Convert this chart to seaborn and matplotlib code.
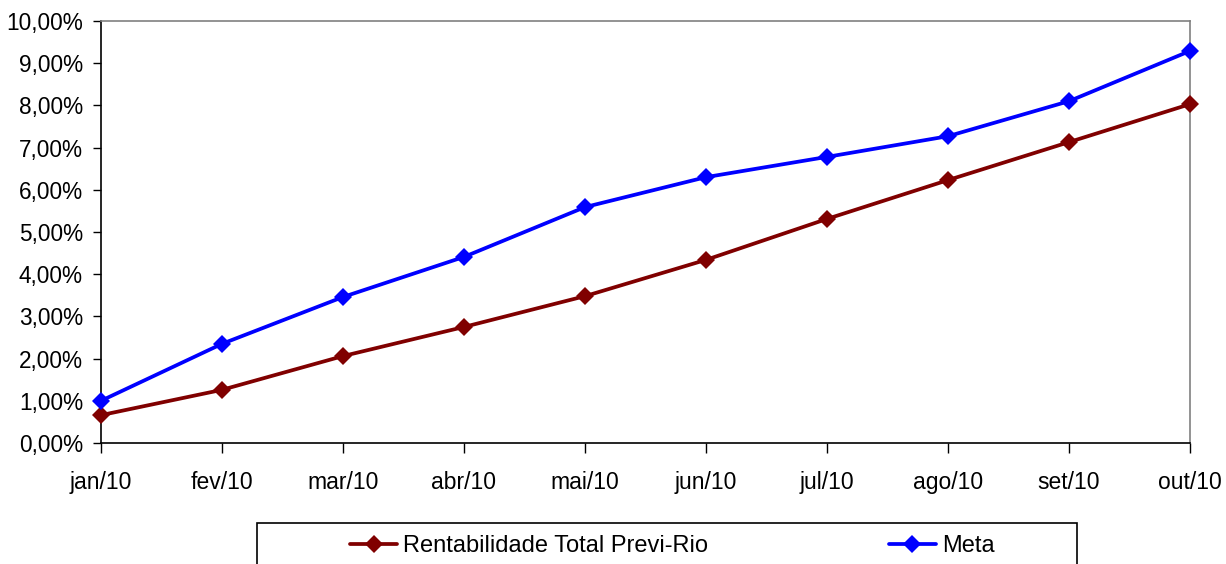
import matplotlib
matplotlib.use("Agg")
import matplotlib.pyplot as plt
import matplotlib.ticker as mticker
from matplotlib.patches import Rectangle
import seaborn as sns
import pandas as pd

meses = ["jan/10", "fev/10", "mar/10", "abr/10", "mai/10", "jun/10", "jul/10", "ago/10", "set/10", "out/10"]
rentabilidade = [0.66, 1.26, 2.06, 2.75, 3.48, 4.34, 5.31, 6.23, 7.13, 8.03]
meta = [1.00, 2.35, 3.46, 4.41, 5.59, 6.30, 6.78, 7.27, 8.10, 9.29]
serie_nomes = ["Rentabilidade Total Previ-Rio", "Meta"]
cores = ["#800000", "#0000FF"]

sns.set_style("white")
plt.rcParams["font.family"] = ["Liberation Sans", "DejaVu Sans"]
plt.rcParams["text.color"] = "black"
plt.rcParams["xtick.color"] = "black"
plt.rcParams["ytick.color"] = "black"

df = pd.DataFrame({
    "pos": list(range(len(meses))) * 2,
    "valor": rentabilidade + meta,
    "serie": [serie_nomes[0]] * len(meses) + [serie_nomes[1]] * len(meses),
})

fig = plt.figure(figsize=(12.26, 5.64), dpi=100)
W, H = 1226, 564
ax = fig.add_axes([101 / W, 1 - 443 / H, (1190 - 101) / W, (443 - 21) / H])

sns.lineplot(data=df, x="pos", y="valor", hue="serie", style="serie",
             hue_order=serie_nomes, palette=cores, markers=["D", "D"], dashes=False,
             markersize=9.5, markeredgewidth=0, linewidth=2.7, sort=False, ax=ax,
             clip_on=False, zorder=5)

ax.set_xlim(0, len(meses) - 1)
ax.set_ylim(0, 10)
ax.set_xticks(range(len(meses)))
ax.set_xticklabels(meses)
ax.set_yticks(range(0, 11))
ax.yaxis.set_major_formatter(mticker.FuncFormatter(lambda v, p: f"{v:.2f}".replace(".", ",") + "%"))
ax.set_xlabel("")
ax.set_ylabel("")
ax.tick_params(axis="y", direction="out", length=6, width=1, colors="black", pad=7, labelsize=16.3, left=True)
ax.tick_params(axis="x", direction="out", length=7, width=1, colors="black", pad=13, labelsize=16.5, bottom=True)
for s in ["left", "bottom"]:
    ax.spines[s].set_color("black")
    ax.spines[s].set_linewidth(1.2)
for s in ["top", "right"]:
    ax.spines[s].set_color("#808080")
    ax.spines[s].set_linewidth(1.2)
ax.grid(False)

handles, labels = ax.get_legend_handles_labels()
ax.get_legend().remove()
fig.legend(handles, labels, loc="center left", bbox_to_anchor=(350 / W, 1 - 546 / H),
           bbox_transform=fig.transFigure, ncol=2, frameon=False, fontsize=17,
           borderpad=0, borderaxespad=0, handlelength=2.0, handletextpad=0.25,
           columnspacing=7.65)
fig.patches.append(Rectangle((257 / W, -0.1), (1077 - 257) / W, 0.1 + (564 - 523) / H,
                             transform=fig.transFigure, fill=False, edgecolor="black",
                             linewidth=1.2))

fig.savefig("out.png", dpi=100)
